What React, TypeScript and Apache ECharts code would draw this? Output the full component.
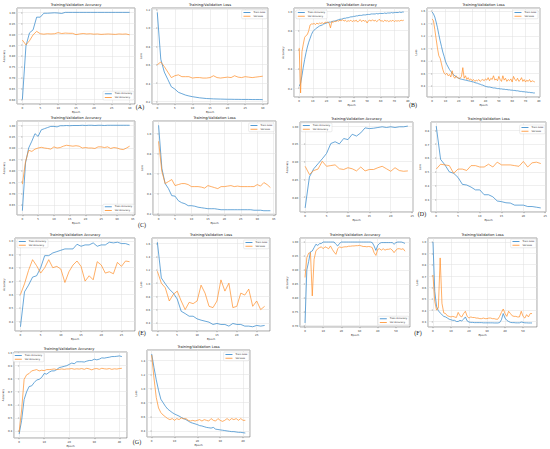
import React, { useEffect, useRef } from "react";
import * as echarts from "echarts";

// ---------- data ----------
const aTrainAcc = [0.60,0.846,0.906,0.92,0.978,0.978,0.996,0.996,0.997,0.998,0.997,0.995,1.0,1.0,1.0,1.0,1.0,1.0,1.0,1.0,1.0,1.0,1.0,1.0,1.0,1.0,1.0,1.0,1.0,1.0,1.0];
const aValAcc = [0.873,0.851,0.87,0.897,0.913,0.902,0.900,0.902,0.901,0.902,0.907,0.903,0.905,0.904,0.904,0.898,0.901,0.903,0.901,0.902,0.900,0.901,0.899,0.900,0.901,0.900,0.899,0.901,0.900,0.901,0.897];
const aTrainLoss = [1.17,0.66,0.52,0.44,0.36,0.335,0.30,0.285,0.27,0.26,0.252,0.246,0.24,0.236,0.232,0.23,0.228,0.227,0.226,0.225,0.224,0.224,0.223,0.223,0.222,0.222,0.222,0.221,0.221,0.221,0.22];
const aValLoss = [0.60,0.63,0.58,0.52,0.46,0.48,0.49,0.47,0.47,0.47,0.455,0.46,0.46,0.455,0.455,0.46,0.48,0.46,0.455,0.46,0.465,0.46,0.48,0.465,0.46,0.47,0.465,0.46,0.465,0.47,0.475];

const bTrainAcc = [0.22,0.25,0.33,0.42,0.50,0.57,0.63,0.68,0.72,0.76,0.79,0.805,0.82,0.83,0.84,0.85,0.855,0.86,0.87,0.875,0.88,0.885,0.89,0.89,0.895,0.90,0.90,0.905,0.91,0.915,0.92,0.92,0.925,0.93,0.93,0.935,0.935,0.94,0.945,0.945,0.95,0.95,0.955,0.955,0.96,0.96,0.96,0.965,0.965,0.965,0.97,0.97,0.97,0.975,0.975,0.975,0.975,0.98,0.975,0.98,0.98,0.98,0.98,0.985,0.98,0.985,0.985,0.985,0.99,0.985,0.99,0.99,0.99,0.99,0.995,0.99,0.995,0.995];
const bValAcc = [0.62,0.15,0.58,0.66,0.73,0.75,0.76,0.80,0.86,0.87,0.87,0.875,0.865,0.88,0.87,0.88,0.875,0.885,0.87,0.89,0.885,0.89,0.88,0.83,0.895,0.885,0.90,0.895,0.905,0.90,0.91,0.905,0.915,0.90,0.91,0.895,0.905,0.90,0.91,0.895,0.905,0.90,0.91,0.89,0.905,0.915,0.895,0.91,0.90,0.905,0.88,0.905,0.91,0.90,0.915,0.90,0.91,0.895,0.905,0.92,0.90,0.905,0.895,0.91,0.90,0.905,0.895,0.905,0.90,0.91,0.895,0.905,0.90,0.905,0.90,0.91,0.905,0.91];
const bTrainLoss = [1.58,1.55,1.50,1.42,1.33,1.22,1.12,1.03,0.94,0.87,0.79,0.74,0.70,0.66,0.63,0.60,0.58,0.56,0.545,0.53,0.52,0.51,0.505,0.50,0.495,0.49,0.485,0.48,0.475,0.47,0.465,0.46,0.45,0.445,0.44,0.43,0.425,0.415,0.41,0.40,0.39,0.385,0.38,0.38,0.375,0.37,0.365,0.365,0.36,0.355,0.355,0.35,0.35,0.345,0.345,0.34,0.34,0.335,0.335,0.33,0.33,0.325,0.325,0.32,0.32,0.315,0.31,0.31,0.305,0.305,0.30,0.30,0.295,0.295,0.29,0.29,0.285,0.285];
const bValLoss = [1.47,1.44,1.30,1.15,1.00,0.88,0.84,0.75,0.66,0.60,0.58,0.60,0.56,0.58,0.54,0.64,0.55,0.52,0.56,0.53,0.52,0.52,0.55,0.69,0.52,0.56,0.50,0.53,0.49,0.51,0.48,0.50,0.47,0.49,0.48,0.50,0.47,0.49,0.50,0.48,0.51,0.49,0.53,0.48,0.52,0.50,0.56,0.49,0.51,0.48,0.55,0.50,0.47,0.56,0.49,0.52,0.47,0.50,0.48,0.51,0.46,0.55,0.50,0.48,0.52,0.47,0.49,0.53,0.47,0.50,0.46,0.49,0.47,0.50,0.46,0.48,0.47,0.46];

const cTrainAcc = [0.624,0.834,0.90,0.93,0.963,0.951,0.98,0.985,0.99,0.995,0.995,0.993,0.998,0.998,0.999,0.998,0.999,0.999,0.999,1.0,0.999,1.0,1.0,0.999,1.0,1.0,0.999,1.0,1.0,1.0,1.0,1.0,1.0,1.0,1.0];
const cValAcc = [0.741,0.84,0.89,0.885,0.895,0.90,0.903,0.90,0.898,0.895,0.905,0.90,0.902,0.908,0.912,0.91,0.908,0.91,0.908,0.90,0.902,0.90,0.90,0.898,0.905,0.905,0.902,0.905,0.898,0.902,0.90,0.895,0.893,0.90,0.908];
const cTrainLoss = [1.08,0.65,0.50,0.45,0.38,0.375,0.33,0.31,0.30,0.28,0.28,0.275,0.265,0.26,0.255,0.25,0.25,0.25,0.245,0.24,0.24,0.24,0.24,0.24,0.24,0.24,0.24,0.24,0.24,0.235,0.235,0.235,0.23,0.23,0.23];
const cValLoss = [0.92,0.62,0.50,0.52,0.54,0.48,0.49,0.50,0.50,0.49,0.47,0.47,0.47,0.465,0.455,0.48,0.47,0.46,0.45,0.47,0.47,0.475,0.48,0.47,0.475,0.47,0.47,0.47,0.47,0.47,0.49,0.475,0.51,0.49,0.46];

const dTrainAcc = [0.77,0.857,0.88,0.894,0.908,0.923,0.951,0.956,0.95,0.965,0.962,0.977,0.972,0.981,0.995,0.993,0.994,0.996,0.998,0.996,0.998,0.996,0.998,0.998,1.0];
const dValAcc = [0.887,0.864,0.875,0.879,0.901,0.887,0.889,0.891,0.880,0.878,0.883,0.880,0.874,0.885,0.874,0.878,0.878,0.883,0.887,0.880,0.873,0.883,0.875,0.873,0.874];
const dTrainLoss = [0.83,0.59,0.55,0.50,0.49,0.46,0.41,0.405,0.39,0.37,0.37,0.335,0.335,0.32,0.29,0.285,0.277,0.275,0.26,0.26,0.26,0.25,0.25,0.245,0.24];
const dValLoss = [0.52,0.555,0.55,0.545,0.49,0.52,0.52,0.51,0.545,0.545,0.535,0.535,0.555,0.535,0.57,0.55,0.55,0.55,0.545,0.54,0.575,0.535,0.565,0.57,0.56];

const eTrainAcc = [0.36,0.62,0.67,0.73,0.74,0.80,0.89,0.89,0.91,0.92,0.93,0.94,0.94,0.94,0.975,0.96,0.97,0.97,0.985,0.96,0.97,0.97,0.99,0.985,0.99,0.98,0.98,0.97];
const eValAcc = [0.60,0.68,0.78,0.86,0.815,0.76,0.80,0.86,0.80,0.81,0.79,0.69,0.77,0.82,0.85,0.81,0.70,0.74,0.71,0.845,0.82,0.76,0.77,0.755,0.84,0.81,0.85,0.845];
const eTrainLoss = [1.62,1.08,0.99,0.91,0.85,0.76,0.575,0.54,0.50,0.50,0.46,0.44,0.425,0.41,0.375,0.39,0.375,0.375,0.35,0.39,0.375,0.375,0.35,0.35,0.34,0.36,0.35,0.36];
const eValLoss = [1.18,1.0,0.93,0.73,0.83,0.88,0.73,0.60,0.71,0.69,0.73,0.97,0.85,0.65,0.63,0.73,1.05,0.88,1.0,0.63,0.65,0.85,0.82,0.91,0.65,0.73,0.60,0.65];

const fTrainAcc = [0.71,0.90,0.93,0.965,0.968,0.98,0.992,0.988,0.994,0.995,1.0,1.0,1.0,1.0,1.0,1.0,1.0,0.992,0.986,0.995,1.0,1.0,1.0,1.0,1.0,1.0,1.0,1.0,1.0,1.0,1.0,1.0,1.0,1.0,1.0,1.0,1.0,0.998,0.986,0.97,0.988,0.995,0.998,0.998,0.998,0.998,0.998,0.998,0.998,0.992,0.998,1.0,1.0,1.0,0.998,0.995];
const fValAcc = [0.873,0.944,0.96,0.962,0.807,0.938,0.968,0.976,0.98,0.983,0.976,0.983,0.98,0.976,0.986,0.974,0.964,0.956,0.976,0.983,0.98,0.982,0.983,0.983,0.985,0.985,0.986,0.986,0.987,0.987,0.988,0.986,0.984,0.984,0.983,0.984,0.983,0.98,0.962,0.952,0.974,0.976,0.971,0.976,0.971,0.974,0.974,0.976,0.971,0.962,0.971,0.976,0.976,0.974,0.976,0.967];
const fTrainLoss = [1.0,0.566,0.433,0.395,0.375,0.36,0.345,0.34,0.33,0.32,0.315,0.31,0.31,0.30,0.30,0.31,0.305,0.32,0.34,0.305,0.295,0.292,0.292,0.29,0.29,0.29,0.29,0.29,0.288,0.288,0.288,0.288,0.288,0.288,0.287,0.287,0.287,0.29,0.315,0.37,0.33,0.31,0.30,0.292,0.29,0.29,0.288,0.288,0.288,0.295,0.292,0.288,0.288,0.287,0.287,0.287];
const fValLoss = [0.71,0.477,0.40,0.42,0.86,0.46,0.375,0.37,0.35,0.345,0.34,0.345,0.34,0.335,0.38,0.35,0.34,0.37,0.39,0.345,0.33,0.34,0.335,0.335,0.33,0.33,0.325,0.325,0.33,0.325,0.325,0.33,0.33,0.325,0.325,0.32,0.32,0.345,0.38,0.41,0.37,0.345,0.39,0.37,0.35,0.345,0.345,0.34,0.34,0.39,0.345,0.33,0.36,0.34,0.37,0.37];

const gTrainAcc = [0.375,0.48,0.64,0.70,0.74,0.745,0.77,0.79,0.795,0.81,0.84,0.835,0.85,0.86,0.86,0.87,0.885,0.89,0.895,0.90,0.91,0.92,0.915,0.93,0.93,0.93,0.928,0.935,0.94,0.94,0.95,0.945,0.95,0.96,0.958,0.962,0.965,0.97,0.97,0.972,0.975,0.97];
const gValAcc = [0.39,0.56,0.795,0.83,0.84,0.86,0.865,0.87,0.86,0.865,0.862,0.87,0.87,0.872,0.875,0.87,0.872,0.875,0.872,0.875,0.875,0.878,0.873,0.876,0.874,0.878,0.872,0.88,0.875,0.868,0.876,0.878,0.872,0.88,0.876,0.874,0.878,0.872,0.876,0.874,0.878,0.88];
const gTrainLoss = [1.49,1.30,1.125,0.975,0.85,0.80,0.75,0.71,0.685,0.66,0.64,0.625,0.61,0.59,0.575,0.56,0.54,0.52,0.51,0.50,0.49,0.475,0.47,0.46,0.45,0.445,0.44,0.45,0.425,0.42,0.415,0.41,0.405,0.40,0.395,0.39,0.39,0.385,0.38,0.38,0.375,0.37];
const gValLoss = [1.475,1.15,0.875,0.725,0.66,0.625,0.60,0.575,0.56,0.575,0.55,0.575,0.56,0.585,0.57,0.575,0.55,0.54,0.55,0.54,0.55,0.56,0.54,0.56,0.55,0.54,0.575,0.55,0.54,0.575,0.55,0.535,0.55,0.575,0.55,0.575,0.56,0.575,0.55,0.575,0.55,0.55];

const panelLabels = ["(A)", "(B)", "(C)", "(D)", "(E)", "(F)", "(G)"];
const accTitle = "Training/Validation Accuracy";
const lossTitle = "Training/Validation Loss";
const accNames = ["Train Accuracy", "Val Accuracy"];
const lossNames = ["Train Loss", "Val Loss"];

// ---------- layout ----------
type Panel = {
  train: number[]; val: number[]; kind: "acc" | "loss";
  box: [number, number, number, number];
  xStep: number; yStep: number; yDec: number; yGap: number;
  legend: any;
};

const panels: Panel[] = [
  { train: aTrainAcc, val: aValAcc, kind: "acc", box: [17, 8, 135, 104], xStep: 5, yStep: 0.05, yDec: 2, yGap: 12, legend: { right: 416, bottom: 349 } },
  { train: aTrainLoss, val: aValLoss, kind: "loss", box: [152, 8, 268, 104], xStep: 5, yStep: 0.2, yDec: 1, yGap: 9.5, legend: { right: 283, top: 10 } },
  { train: bTrainAcc, val: bValAcc, kind: "acc", box: [294, 8, 409, 97], xStep: 10, yStep: 0.2, yDec: 1, yGap: 9.5, legend: { left: 296, top: 10 } },
  { train: bTrainLoss, val: bValLoss, kind: "loss", box: [427, 8, 540, 97], xStep: 10, yStep: 0.2, yDec: 1, yGap: 9.5, legend: { right: 12, top: 10 } },
  { train: cTrainAcc, val: cValAcc, kind: "acc", box: [17, 121, 135, 215], xStep: 5, yStep: 0.05, yDec: 2, yGap: 12, legend: { right: 416, bottom: 236 } },
  { train: cTrainLoss, val: cValLoss, kind: "loss", box: [153, 121, 276, 215], xStep: 5, yStep: 0.2, yDec: 1, yGap: 9.5, legend: { right: 276, top: 123 } },
  { train: dTrainAcc, val: dValAcc, kind: "acc", box: [300, 122, 413, 212], xStep: 5, yStep: 0.05, yDec: 2, yGap: 12, legend: { left: 301, top: 123 } },
  { train: dTrainLoss, val: dValLoss, kind: "loss", box: [431, 122, 546, 212], xStep: 5, yStep: 0.1, yDec: 1, yGap: 9.5, legend: { right: 5, top: 125 } },
  { train: eTrainAcc, val: eValAcc, kind: "acc", box: [15, 238, 135, 331], xStep: 5, yStep: 0.1, yDec: 1, yGap: 9.5, legend: { left: 17, top: 239 } },
  { train: eTrainLoss, val: eValLoss, kind: "loss", box: [152, 238, 270, 331], xStep: 5, yStep: 0.2, yDec: 1, yGap: 9.5, legend: { right: 281, top: 240 } },
  { train: fTrainAcc, val: fValAcc, kind: "acc", box: [300, 238, 410, 327], xStep: 10, yStep: 0.05, yDec: 2, yGap: 12, legend: { right: 141, bottom: 124 } },
  { train: fTrainLoss, val: fValLoss, kind: "loss", box: [428, 238, 537, 327], xStep: 10, yStep: 0.1, yDec: 1, yGap: 9.5, legend: { right: 14, top: 239 } },
  { train: gTrainAcc, val: gValAcc, kind: "acc", box: [11, 352, 127, 438], xStep: 10, yStep: 0.1, yDec: 1, yGap: 9.5, legend: { left: 13, top: 353 } },
  { train: gTrainLoss, val: gValLoss, kind: "loss", box: [147, 350, 250, 437], xStep: 10, yStep: 0.2, yDec: 1, yGap: 9.5, legend: { right: 301, top: 352 } },
];

const labelPos: [number, number][] = [
  [140, 107], [413, 105], [142, 225], [422, 214], [142, 333], [418, 333], [137, 442],
];

const FONT = "DejaVu Sans";
const BLUE = "#2a82c8";
const ORANGE = "#ff8c25";
const TICK_FS = 2.7;

function pairs(arr: number[]) {
  return arr.map((v, i) => [i, v]);
}
function padded(arrs: number[][]): [number, number] {
  let mn = Infinity, mx = -Infinity;
  arrs.forEach((a) => a.forEach((v) => { if (v < mn) mn = v; if (v > mx) mx = v; }));
  const pad = (mx - mn) * 0.05;
  return [mn - pad, mx + pad];
}

function buildOption() {
  const grid: any[] = [];
  const xAxis: any[] = [];
  const yAxis: any[] = [];
  const series: any[] = [];
  const legend: any[] = [];
  const graphic: any[] = [];

  panels.forEach((p, i) => {
    const [l, t, r, b] = p.box;
    grid.push({
      left: l, top: t, width: r - l, height: b - t,
      show: true, borderColor: "#444", borderWidth: 0.5,
      backgroundColor: "#fff", containLabel: false,
    });
    const n = p.train.length;
    const xr = padded([[0, n - 1]]);
    const yr = padded([p.train, p.val]);
    const common = {
      axisLine: { show: false },
      axisTick: { show: true, length: 1.2, lineStyle: { color: "#444", width: 0.4 } },
      splitLine: { show: true, lineStyle: { color: "#dedede", width: 0.5 } },
    };
    xAxis.push({
      type: "value", gridIndex: i, min: xr[0], max: xr[1],
      minInterval: p.xStep, maxInterval: p.xStep, splitNumber: 8,
      name: "Epoch", nameLocation: "middle", nameGap: 5,
      nameTextStyle: { fontSize: TICK_FS, color: "#222", fontFamily: FONT },
      axisLabel: {
        fontSize: TICK_FS, margin: 1.8, color: "#333", fontFamily: FONT,
        showMinLabel: false, showMaxLabel: false,
        formatter: (v: number) => String(Math.round(v)),
      },
      ...common,
    });
    yAxis.push({
      type: "value", gridIndex: i, min: yr[0], max: yr[1],
      minInterval: p.yStep, maxInterval: p.yStep, splitNumber: 8,
      name: p.kind === "acc" ? "Accuracy" : "Loss",
      nameLocation: "middle", nameGap: p.yGap, nameRotate: 90,
      nameTextStyle: { fontSize: TICK_FS, color: "#222", fontFamily: FONT },
      axisLabel: {
        fontSize: TICK_FS, margin: 1.8, color: "#333", fontFamily: FONT,
        showMinLabel: false, showMaxLabel: false,
        formatter: (v: number) => v.toFixed(p.yDec),
      },
      ...common,
    });
    const names = p.kind === "acc" ? accNames : lossNames;
    series.push({
      type: "line", name: names[0], xAxisIndex: i, yAxisIndex: i,
      data: pairs(p.train), symbol: "none", color: BLUE,
      lineStyle: { width: 0.7, color: BLUE }, z: 3,
    });
    series.push({
      type: "line", name: names[1], xAxisIndex: i, yAxisIndex: i,
      data: pairs(p.val), symbol: "none", color: ORANGE,
      lineStyle: { width: 0.7, color: ORANGE }, z: 3,
    });
    legend.push({
      data: names, orient: "vertical", ...p.legend,
      icon: "rect", itemWidth: 7, itemHeight: 0.8, itemGap: 1.6,
      padding: [1.6, 1.8, 1.6, 1.8],
      backgroundColor: "rgba(255,255,255,0.9)", borderColor: "#d0d0d0",
      borderWidth: 0.4, borderRadius: 1,
      textStyle: { fontSize: 2.4, color: "#222", fontFamily: FONT, padding: [0, 0, 0, -2] },
      selectedMode: false,
    });
    graphic.push({
      type: "text", x: (l + r) / 2, y: t - 3.2,
      style: {
        text: p.kind === "acc" ? accTitle : lossTitle,
        fontSize: 3.6, fill: "#111", fontFamily: FONT,
        textAlign: "center", textVerticalAlign: "middle",
      },
    });
  });

  panelLabels.forEach((lab, i) => {
    graphic.push({
      type: "text", x: labelPos[i][0], y: labelPos[i][1],
      style: {
        text: lab, fontSize: 6, fill: "#111", fontFamily: "Liberation Serif",
        textAlign: "center", textVerticalAlign: "middle",
      },
    });
  });

  return {
    animation: false,
    backgroundColor: "#fff",
    textStyle: { fontFamily: FONT },
    grid, xAxis, yAxis, series, legend, graphic,
  };
}

export default function App() {
  const ref = useRef<HTMLDivElement>(null);
  useEffect(() => {
    if (!ref.current) return;
    const chart = echarts.init(ref.current, undefined, { renderer: "svg" });
    chart.setOption(buildOption() as any);
    return () => chart.dispose();
  }, []);
  return (
    <div
      ref={ref}
      style={{ position: "fixed", left: 0, top: 0, width: 550, height: 449, background: "#fff" }}
    />
  );
}
